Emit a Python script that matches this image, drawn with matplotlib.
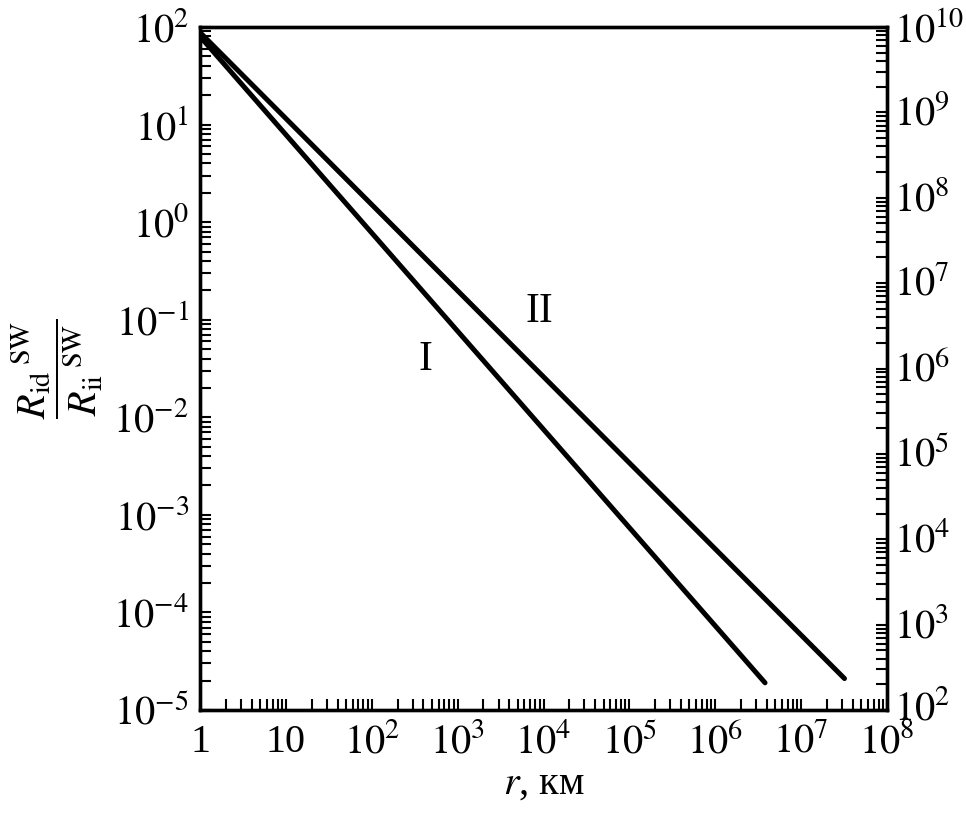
import matplotlib
matplotlib.use("Agg")
import matplotlib.pyplot as plt
import matplotlib.transforms as mtransforms
import numpy as np
from matplotlib.ticker import LogLocator, FixedLocator, NullFormatter

plt.rcParams['font.family'] = ['Liberation Serif', 'DejaVu Serif']
plt.rcParams['mathtext.fontset'] = 'stix'

# Data
r_I = [1, 3.8e6]
ratio_I = [80, 1.9e-5]
r_II = [1, 3.2e7]
ratio_II = [88, 2.1e-5]

x_ticks = [1, 10, 1e2, 1e3, 1e4, 1e5, 1e6, 1e7, 1e8]
x_labels = ['1', '10', r'$10^{2}$', r'$10^{3}$', r'$10^{4}$', r'$10^{5}$', r'$10^{6}$', r'$10^{7}$', r'$10^{8}$']
yl_ticks = [1e-5, 1e-4, 1e-3, 1e-2, 1e-1, 1e0, 1e1, 1e2]
yl_labels = [r'$10^{-5}$', r'$10^{-4}$', r'$10^{-3}$', r'$10^{-2}$', r'$10^{-1}$', r'$10^{0}$', r'$10^{1}$', r'$10^{2}$']
yr_ticks = [1e2, 1e3, 1e4, 1e5, 1e6, 1e7, 1e8, 1e9, 1e10]
yr_labels = [r'$10^{%d}$' % k for k in range(2, 11)]

fig = plt.figure(figsize=(9.66, 8.13), dpi=100)
ax = fig.add_axes([200/966, 1 - 710/813, 687/966, 683/813])
ax.plot(r_I, ratio_I, color='black', lw=3.6, solid_capstyle='round')
ax.plot(r_II, ratio_II, color='black', lw=3.6, solid_capstyle='round')
ax.set_xscale('log')
ax.set_yscale('log')
ax.set_xlim(1, 1e8)
ax.set_ylim(1e-5, 1e2)

fs = 29
ax.xaxis.set_major_locator(FixedLocator(x_ticks))
ax.set_xticklabels(x_labels, fontsize=fs)
ax.yaxis.set_major_locator(FixedLocator(yl_ticks))
ax.set_yticklabels(yl_labels, fontsize=fs)
ax.xaxis.set_minor_locator(LogLocator(base=10, subs=np.arange(2, 10), numticks=20))
ax.yaxis.set_minor_locator(LogLocator(base=10, subs=np.arange(2, 10), numticks=20))
ax.xaxis.set_minor_formatter(NullFormatter())
ax.yaxis.set_minor_formatter(NullFormatter())
ax.tick_params(which='both', direction='in', length=8, width=1.5, top=False, right=False)
ax.tick_params(axis='x', which='major', pad=10)
ax.tick_params(axis='y', which='major', pad=8)
for s in ax.spines.values():
    s.set_linewidth(2.4)

ax2 = ax.twinx()
ax2.set_yscale('log')
ax2.set_ylim(1e2, 1e10)
ax2.yaxis.set_major_locator(FixedLocator(yr_ticks))
ax2.set_yticklabels(yr_labels, fontsize=fs)
ax2.yaxis.set_minor_locator(LogLocator(base=10, subs=np.arange(2, 10), numticks=20))
ax2.yaxis.set_minor_formatter(NullFormatter())
ax2.tick_params(which='both', direction='in', length=8, width=1.5, pad=5)
for s in ax2.spines.values():
    s.set_linewidth(2.4)
rlabels = ax2.get_yticklabels()
for i, lbl in enumerate(rlabels):
    dy = 5 if i == 0 else (0 if i == len(rlabels) - 1 else 2)
    shift = mtransforms.ScaledTranslation(0, dy / 100, fig.dpi_scale_trans)
    lbl.set_transform(lbl.get_transform() + shift)

ax.text(4.2e2, 0.039, 'I', fontsize=30, ha='center', va='center')
ax.text(9e3, 0.12, 'II', fontsize=30, ha='center', va='center')

ax.set_xlabel(r'$r$, км', fontsize=fs, labelpad=2)
ax.set_ylabel(r'$\dfrac{R_{\mathrm{id}}\,{}^{\mathrm{SW}}}{R_{\mathrm{ii}}\,{}^{\mathrm{SW}}}$', fontsize=fs, labelpad=6)

fig.savefig('out.png', dpi=100)
